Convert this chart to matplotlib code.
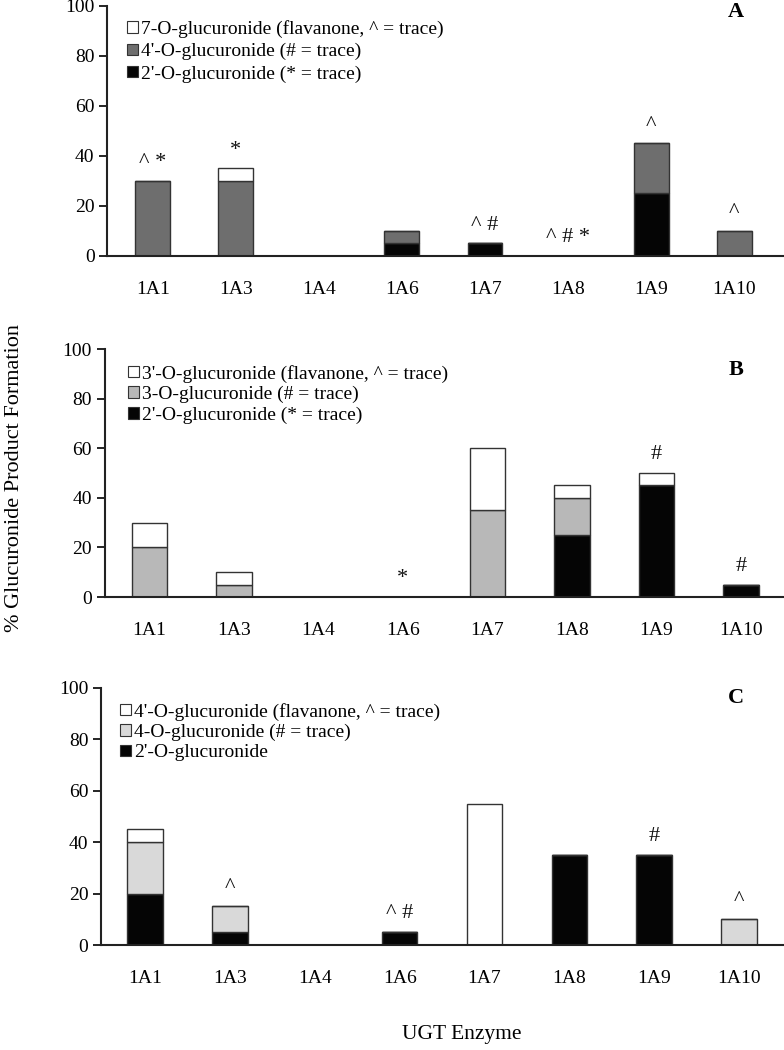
import matplotlib
matplotlib.use("Agg")
import matplotlib.pyplot as plt
from matplotlib.patches import Patch
import numpy as np

plt.rcParams["font.family"] = ["Liberation Serif", "DejaVu Serif"]

enzymes = ["1A1", "1A3", "1A4", "1A6", "1A7", "1A8", "1A9", "1A10"]

# Panel A
a_2p = [0, 0, 0, 5, 5, 0, 25, 0]
a_4p = [30, 30, 0, 5, 0, 0, 20, 10]
a_7 = [0, 5, 0, 0, 0, 0, 0, 0]
a_marks = ["^ *", "*", "", "", "^ #", "^ # *", "^", "^"]
a_labels = ["7-O-glucuronide (flavanone, ^ = trace)",
            "4'-O-glucuronide (# = trace)",
            "2'-O-glucuronide (* = trace)"]

# Panel B
b_2p = [0, 0, 0, 0, 0, 25, 45, 5]
b_3 = [20, 5, 0, 0, 35, 15, 0, 0]
b_3p = [10, 5, 0, 0, 25, 5, 5, 0]
b_marks = ["", "", "", "*", "", "", "#", "#"]
b_labels = ["3'-O-glucuronide (flavanone, ^ = trace)",
            "3-O-glucuronide (# = trace)",
            "2'-O-glucuronide (* = trace)"]

# Panel C
c_2p = [20, 5, 0, 5, 0, 35, 35, 0]
c_4 = [20, 10, 0, 0, 0, 0, 0, 10]
c_4p = [5, 0, 0, 0, 55, 0, 0, 0]
c_marks = ["", "^", "", "^ #", "", "", "#", "^"]
c_labels = ["4'-O-glucuronide (flavanone, ^ = trace)",
            "4-O-glucuronide (# = trace)",
            "2'-O-glucuronide"]

panels = [
    dict(tag="A", series=[a_2p, a_4p, a_7], marks=a_marks, labels=a_labels,
         mid="#6e6e6e", rect=[0.1365, 0.7562, 0.8635, 0.2381],
         xlim=(-0.55, 7.6), leg=(0.03, 0.943), spacing=0.25,
         tagpos=(0.929, 0.976)),
    dict(tag="B", series=[b_2p, b_3, b_3p], marks=b_marks, labels=b_labels,
         mid="#b8b8b8", rect=[0.1333, 0.4314, 0.8667, 0.2362],
         xlim=(-0.53, 7.51), leg=(0.035, 0.937), spacing=0.17,
         tagpos=(0.929, 0.915)),
    dict(tag="C", series=[c_2p, c_4, c_4p], marks=c_marks, labels=c_labels,
         mid="#d9d9d9", rect=[0.1288, 0.1, 0.8712, 0.2448],
         xlim=(-0.52, 7.53), leg=(0.028, 0.943), spacing=0.17,
         tagpos=(0.93, 0.961)),
]

EDGE = "#333333"
fig = plt.figure(figsize=(7.84, 10.5), dpi=100)
x = np.arange(len(enzymes))

for p in panels:
    ax = fig.add_axes(p["rect"])
    colors = ["#050505", p["mid"], "white"]
    bottom = np.zeros(len(enzymes))
    for vals, col in zip(p["series"], colors):
        vals = np.array(vals, dtype=float)
        ax.bar(x, vals, width=0.42, bottom=bottom, color=col,
               edgecolor=EDGE, linewidth=1.0, zorder=2)
        bottom += vals

    # trace markers above each bar
    for xi, total, m in zip(x, bottom, p["marks"]):
        if m:
            ax.text(xi, total + 5.5, m, ha="center", va="baseline",
                    fontsize=16, color="#111111")

    ax.set_xlim(*p["xlim"])
    ax.set_ylim(0, 100)
    ax.set_yticks(range(0, 101, 20))
    ax.set_xticks(x)
    ax.set_xticklabels(enzymes)
    ax.tick_params(axis="x", length=0, pad=18, labelsize=14)
    ax.tick_params(axis="y", length=6, width=1.2, pad=3, labelsize=14,
                   direction="out")
    for s in ("top", "right"):
        ax.spines[s].set_visible(False)
    for s in ("left", "bottom"):
        ax.spines[s].set_linewidth(1.5)
        ax.spines[s].set_color("#222222")

    handles = [Patch(facecolor=c, edgecolor=EDGE, linewidth=0.8)
               for c in colors[::-1]]
    ax.legend(handles, p["labels"], loc="upper left",
              bbox_to_anchor=p["leg"], frameon=False, fontsize=14,
              handlelength=0.55, handleheight=0.55, handletextpad=0.15,
              labelspacing=p["spacing"], borderaxespad=0, borderpad=0)

    ax.text(p["tagpos"][0], p["tagpos"][1], p["tag"], transform=ax.transAxes,
            ha="center", va="center", fontsize=16, fontweight="bold")

fig.text(0.019, 0.545, "% Glucuronide Product Formation", rotation=90,
         ha="center", va="center", fontsize=16)
fig.text(0.589, 0.015, "UGT Enzyme", ha="center", va="center", fontsize=15.5)

fig.savefig("out.png", dpi=100, facecolor="white")
